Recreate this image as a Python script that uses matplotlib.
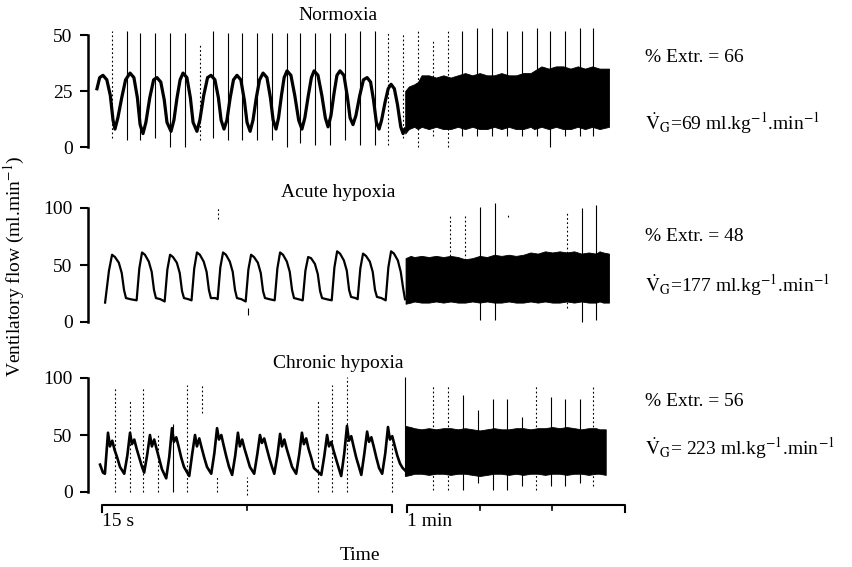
"""
Ventilatory flow recordings (normoxia, acute and chronic hypoxia),
slow trace (15 s) followed by compressed trace (1 min)
"""

import matplotlib
matplotlib.use("Agg")
import matplotlib.pyplot as plt

plt.rcParams["font.family"] = ["Liberation Serif", "DejaVu Serif"]
plt.rcParams["mathtext.fontset"] = "stix"

W, H = 853, 567

# ---- data (time in s, flow in ml/min) ----

# normoxia, 15 s trace
N_SLOW_T = [-0.26, -0.12, 0.05, 0.25, 0.43, 0.57, 0.67, 0.82, 1.02, 1.22,
            1.45, 1.65, 1.83, 1.97, 2.12, 2.27, 2.47, 2.67,
            2.84, 3.04, 3.22, 3.36, 3.57, 3.72, 3.88, 4.04,
            4.19, 4.39, 4.57, 4.71, 4.91, 5.06, 5.26, 5.46,
            5.64, 5.84, 6.02, 6.16, 6.31, 6.46, 6.63, 6.80,
            6.98, 7.18, 7.36, 7.50, 7.66, 7.81, 7.98, 8.15,
            8.33, 8.53, 8.71, 8.85, 9.00, 9.13, 9.28, 9.42,
            9.57, 9.77, 9.97, 10.17, 10.34, 10.49, 10.67, 10.83,
            10.97, 11.17, 11.37, 11.55, 11.69, 11.84, 12.00, 12.15,
            12.31, 12.51, 12.68, 12.83, 12.98, 13.13, 13.33, 13.52,
            13.71, 13.89, 14.04, 14.19, 14.33, 14.46, 14.64, 14.80,
            14.95, 15.12, 15.28, 15.45, 15.57, 15.67]
N_SLOW_V = [26, 31, 32, 30, 23, 12, 8, 13, 22, 30,
            33, 31, 22, 10, 6, 11, 22, 30,
            31, 29, 21, 11, 7, 12, 22, 30,
            33, 31, 22, 11, 7, 12, 23, 31,
            32, 30, 22, 12, 8, 12, 22, 30,
            32, 30, 21, 11, 7, 12, 22, 30,
            33, 31, 22, 12, 8, 13, 23, 31,
            34, 32, 23, 12, 8, 13, 23, 31,
            34, 32, 23, 13, 9, 14, 24, 32,
            34, 32, 23, 13, 10, 14, 23, 30,
            31, 29, 21, 11, 8, 12, 20, 26,
            28, 26, 19, 9, 6, 8]
# normoxia, 1 min trace (envelope of the dense record)
N_BAND_T = [-0.5, 0.5, 2.0, 3.0, 4.0, 6, 8, 10, 12, 14, 16, 18, 20, 22, 24, 26, 28,
            30, 32, 34, 35, 37, 39, 41, 43, 45, 47, 49, 51, 53, 55.6]
N_BAND_HI = [25, 27, 28, 29, 32, 32, 31, 32, 31, 32, 33, 32, 33, 32, 32, 33, 32,
             32, 33, 33, 34, 36, 35, 36, 36, 35, 36, 35, 36, 35, 35]
N_BAND_LO = [6, 8, 9, 8, 9, 8, 9, 8, 8, 9, 8, 9, 8, 8, 9, 8, 9,
             8, 8, 9, 8, 9, 8, 9, 8, 8, 9, 8, 9, 8, 9]
# normoxia, marker spikes
N_SPK_SLOW_T = [0.52, 1.29, 1.97, 2.74, 3.52, 4.29, 5.07, 5.74, 6.52, 7.24, 8.02,
                8.79, 9.57, 10.24, 11.02, 11.79, 12.57, 13.34, 14.12, 14.79, 15.57]
N_SPK_SLOW_LO = [4, 3, 3, 4, 0, 0, 3, 4, 3, 3, 3, 3, 0, 2, 1, 1, 3, 1, 1, 1, 4]
N_SPK_SLOW_HI = [52, 52, 51, 51, 51, 51, 46, 52, 51, 51, 51, 51, 51, 51, 51, 51, 51, 52, 52, 51, 51]
N_SPK_SLOW_DOT = [1, 0, 0, 0, 0, 0, 1, 0, 0, 0, 0, 0, 0, 0, 0, 0, 0, 0, 0, 1, 1]
N_SPK_FAST_T = [3.03, 7.16, 11.29, 15.14, 19.27, 23.40, 27.53, 31.65, 35.78,
                39.36, 43.49, 47.62, 51.20]
N_SPK_FAST_LO = [0, 5, 0, 5, 5, 5, 5, 5, 5, 0, 5, 5, 5]
N_SPK_FAST_HI = [52, 48, 52, 52, 53, 53, 52, 52, 53, 52, 52, 53, 53]
N_SPK_FAST_DOT = [1, 1, 1, 0, 0, 0, 0, 0, 0, 0, 0, 0, 0]

# acute hypoxia
A_SLOW_T = [0.16, 0.36, 0.52, 0.67, 0.87, 1.02, 1.14, 1.24, 1.47,
            1.79, 1.93, 2.07, 2.22, 2.42, 2.57, 2.69, 2.79, 3.02,
            3.24, 3.38, 3.52, 3.67, 3.87, 4.02, 4.14, 4.24, 4.47,
            4.63, 4.77, 4.91, 5.06, 5.26, 5.41, 5.53, 5.63, 5.86,
            5.98, 6.12, 6.26, 6.41, 6.61, 6.76, 6.88, 6.98, 7.21,
            7.43, 7.57, 7.71, 7.86, 8.06, 8.21, 8.33, 8.43, 8.66,
            8.93, 9.07, 9.21, 9.36, 9.56, 9.71, 9.83, 9.93, 10.16,
            10.38, 10.52, 10.66, 10.81, 11.01, 11.16, 11.28, 11.38, 11.61,
            11.88, 12.02, 12.16, 12.31, 12.51, 12.66, 12.78, 12.88, 13.11,
            13.22, 13.36, 13.50, 13.65, 13.85, 14.00, 14.12, 14.22, 14.45,
            14.67, 14.81, 14.95, 15.10, 15.30, 15.45, 15.57, 15.67]
A_SLOW_V = [17, 45, 59, 57, 52, 43, 28, 21, 20,
            19, 47, 61, 59, 53, 44, 28, 21, 20,
            18, 46, 59, 57, 52, 43, 27, 21, 20,
            19, 47, 61, 59, 53, 44, 28, 21, 21,
            20, 48, 61, 59, 53, 44, 28, 21, 20,
            18, 46, 59, 57, 52, 43, 27, 21, 20,
            19, 47, 61, 59, 53, 44, 28, 21, 20,
            19, 45, 57, 56, 51, 42, 27, 21, 20,
            19, 48, 62, 60, 54, 45, 28, 22, 21,
            20, 47, 60, 58, 53, 44, 28, 22, 21,
            19, 48, 62, 60, 54, 44, 30, 20]
A_BAND_T = [-0.4, 1, 2, 4, 6, 8, 10, 12, 14, 16, 18, 20, 22, 24, 26, 28, 30,
            32, 34, 36, 38, 40, 42, 44, 46, 48, 50, 52, 53, 54, 55.6]
A_BAND_HI = [56, 58, 57, 58, 57, 58, 57, 58, 57, 55, 56, 58, 57, 59, 58, 59, 58,
             59, 61, 60, 62, 61, 62, 61, 62, 60, 61, 60, 62, 61, 60]
A_BAND_LO = [16, 17, 18, 17, 17, 18, 17, 18, 17, 17, 18, 17, 18, 17, 17, 18, 17,
             17, 18, 17, 18, 17, 17, 18, 17, 18, 17, 17, 18, 17, 17]
A_SPK_SLOW_T = [6.00, 7.55]
A_SPK_SLOW_LO = [90, 6]
A_SPK_SLOW_HI = [100, 12]
A_SPK_SLOW_DOT = [1, 0]
A_SPK_FAST_T = [11.8, 15.96, 20.1, 24.2, 27.8, 44.0, 48.2, 52.0]
A_SPK_FAST_LO = [58, 54, 2, 2, 92, 12, 0, 2]
A_SPK_FAST_HI = [95, 95, 101, 104, 95, 97, 100, 103]
A_SPK_FAST_DOT = [1, 1, 0, 0, 1, 1, 0, 0]

# chronic hypoxia
C_SLOW_T = [-0.10, 0.05, 0.15,
            0.31, 0.41, 0.53, 0.65, 0.79, 0.93, 1.15, 1.31,
            1.45, 1.55, 1.67, 1.79, 1.93, 2.07, 2.18, 2.34,
            2.48, 2.58, 2.70, 2.82, 2.96, 3.10, 3.32, 3.48,
            3.62, 3.72, 3.84, 3.96, 4.10, 4.24, 4.51, 4.67,
            4.81, 4.91, 5.03, 5.15, 5.29, 5.43, 5.65, 5.81,
            5.95, 6.05, 6.17, 6.29, 6.43, 6.57, 6.73, 6.89,
            7.03, 7.13, 7.25, 7.37, 7.51, 7.65, 7.87, 8.03,
            8.17, 8.27, 8.39, 8.51, 8.65, 8.79, 8.91, 9.07,
            9.21, 9.31, 9.43, 9.55, 9.69, 9.83, 10.04, 10.20,
            10.34, 10.44, 10.56, 10.68, 10.82, 10.96, 11.34, 11.50,
            11.64, 11.74, 11.86, 11.98, 12.12, 12.26, 12.37, 12.53,
            12.67, 12.77, 12.89, 13.01, 13.15, 13.29, 13.41, 13.57,
            13.71, 13.81, 13.93, 14.05, 14.19, 14.33, 14.49, 14.65,
            14.79, 14.89, 15.01, 15.13, 15.27, 15.41, 15.55, 15.67]
C_SLOW_V = [24, 17, 16,
            52, 40, 45, 37, 30, 22, 16, 32,
            52, 42, 46, 38, 30, 22, 17, 33,
            50, 40, 46, 38, 29, 20, 12, 31,
            56, 44, 48, 40, 30, 22, 14, 34,
            50, 40, 47, 39, 30, 22, 16, 34,
            56, 46, 50, 41, 31, 22, 15, 32,
            52, 40, 46, 38, 30, 22, 16, 33,
            50, 43, 47, 39, 30, 22, 16, 32,
            51, 40, 46, 38, 30, 22, 16, 33,
            52, 42, 47, 38, 30, 21, 15, 32,
            50, 40, 44, 36, 28, 20, 14, 34,
            58, 45, 49, 40, 30, 22, 15, 34,
            53, 44, 48, 40, 30, 21, 16, 34,
            57, 46, 49, 41, 32, 25, 21, 19]
C_BAND_T = [-0.5, 1, 2, 4, 6, 8, 10, 12, 14, 16, 18, 20, 22, 24, 26, 28, 30,
            32, 34, 36, 38, 40, 42, 44, 46, 48, 50, 52, 53, 54.7]
C_BAND_HI = [58, 57, 56, 55, 56, 55, 56, 56, 55, 56, 55, 54, 55, 56, 55, 55, 56,
             56, 55, 56, 56, 57, 56, 57, 56, 55, 56, 56, 55, 55]
C_BAND_LO = [14, 15, 16, 16, 15, 16, 16, 15, 16, 16, 15, 14, 15, 16, 16, 15, 16,
             15, 16, 16, 15, 16, 16, 15, 16, 16, 15, 16, 16, 15]
C_SPK_SLOW_T = [0.67, 1.45, 2.12, 2.90, 3.67, 4.40, 5.17, 5.95, 7.50,
                11.17, 11.90, 12.67, 15.00]
C_SPK_SLOW_LO = [0, 0, 0, 0, 0, 0, 69, 0, -3, 0, 0, 0, 0]
C_SPK_SLOW_HI = [92, 81, 91, 50, 60, 94, 94, 13, 13, 81, 94, 101, 44]
C_SPK_SLOW_DOT = [1, 1, 1, 1, 0, 1, 1, 1, 1, 1, 1, 1, 1]
C_SPK_FAST_T = [-0.55, 7.16, 11.29, 15.41, 19.54, 23.67, 27.53, 31.65, 35.5,
                39.6, 43.5, 47.6, 51.2]
C_SPK_FAST_LO = [14, 2, 2, 2, 8, 2, 2, 5, 2, 5, 5, 8, 5]
C_SPK_FAST_HI = [101, 94, 94, 85, 72, 82, 82, 66, 94, 83, 82, 82, 94]
C_SPK_FAST_DOT = [0, 1, 1, 0, 0, 0, 0, 0, 1, 0, 0, 0, 1]

TITLES = ["Normoxia", "Acute hypoxia", "Chronic hypoxia"]
EXTRACTION = [66, 48, 56]
VG = [69, 177, 223]
VG_SEP = ["=", "=", "= "]
Y_MAX = [50, 100, 100]

# time scale brackets (s)
SLOW_SCALE = [0, 7.5, 15]
FAST_SCALE = [0, 20, 40, 60]

# ---- layout (pixels of the 853x567 figure) ----
SLOW_XLIM = (-0.724, 15.67)
FAST_XLIM = (-0.55, 61.38)
PANEL_PX = [(35, 147), (208, 322), (378, 492)]  # y of top / zero
FS = 14


def px_box(x0, x1, y_top, y_bot):
    return [x0 / W, 1 - y_bot / H, (x1 - x0) / W, (y_bot - y_top) / H]


def fig_xy(x, y):
    return x / W, 1 - y / H


def draw_spikes(ax, t, lo, hi, dot):
    for ti, a, b, d in zip(t, lo, hi, dot):
        ax.vlines(ti, a, b, colors="black", lw=0.8, clip_on=False,
                  linestyles=(0, (1.6, 2.2)) if d else "solid")


fig = plt.figure(figsize=(W / 100, H / 100), dpi=100)

panels = [
    (N_SLOW_T, N_SLOW_V, N_BAND_T, N_BAND_LO, N_BAND_HI,
     (N_SPK_SLOW_T, N_SPK_SLOW_LO, N_SPK_SLOW_HI, N_SPK_SLOW_DOT),
     (N_SPK_FAST_T, N_SPK_FAST_LO, N_SPK_FAST_HI, N_SPK_FAST_DOT), 2.3),
    (A_SLOW_T, A_SLOW_V, A_BAND_T, A_BAND_LO, A_BAND_HI,
     (A_SPK_SLOW_T, A_SPK_SLOW_LO, A_SPK_SLOW_HI, A_SPK_SLOW_DOT),
     (A_SPK_FAST_T, A_SPK_FAST_LO, A_SPK_FAST_HI, A_SPK_FAST_DOT), 1.6),
    (C_SLOW_T, C_SLOW_V, C_BAND_T, C_BAND_LO, C_BAND_HI,
     (C_SPK_SLOW_T, C_SPK_SLOW_LO, C_SPK_SLOW_HI, C_SPK_SLOW_DOT),
     (C_SPK_FAST_T, C_SPK_FAST_LO, C_SPK_FAST_HI, C_SPK_FAST_DOT), 1.9),
]

slow_axes = []
fast_axes = []
for i, (st, sv, bt, blo, bhi, sspk, fspk, lw) in enumerate(panels):
    y_top, y_bot = PANEL_PX[i]
    ymax = Y_MAX[i]
    ax = fig.add_axes(px_box(88, 405, y_top, y_bot))
    fx = fig.add_axes(px_box(405, 630, y_top, y_bot))
    for a in (ax, fx):
        a.set_ylim(0, ymax)
        a.patch.set_visible(False)
        for s in a.spines.values():
            s.set_visible(False)
    ax.set_xlim(*SLOW_XLIM)
    fx.set_xlim(*FAST_XLIM)
    fx.set_xticks([])
    fx.set_yticks([])
    ax.set_xticks([])

    ax.spines["left"].set_visible(True)
    ax.spines["left"].set_bounds(0, ymax)
    ax.spines["left"].set_linewidth(1.8)
    ax.set_yticks([0, ymax / 2, ymax])
    ax.set_yticklabels(["0", str(int(ymax / 2)), str(ymax)])
    ax.tick_params(axis="y", length=6, width=1.5, pad=5, labelsize=FS)

    draw_spikes(ax, *sspk)
    draw_spikes(fx, *fspk)
    ax.plot(st, sv, color="black", lw=lw, solid_joinstyle="round", clip_on=False)
    fx.fill_between(bt, blo, bhi, color="black", lw=0.6, clip_on=False)

    slow_axes.append(ax)
    fast_axes.append(fx)

# titles and right-hand annotations
TITLE_Y = [15, 193, 363]
EXTR_Y = [58, 237, 402]
VG_Y = [123, 285, 448]
for i in range(3):
    fig.text(*fig_xy(338, TITLE_Y[i]), TITLES[i], ha="center", va="center", fontsize=FS)
    fig.text(*fig_xy(645, EXTR_Y[i]), f"% Extr. = {EXTRACTION[i]}",
             ha="left", va="center", fontsize=FS)
    fig.text(*fig_xy(645, VG_Y[i]),
             r"$\dot{\mathrm{V}}_{\mathrm{G}}$" + f"{VG_SEP[i]}{VG[i]} ml.kg"
             + r"$^{-1}$" + ".min" + r"$^{-1}$",
             ha="left", va="center", fontsize=FS)

# time scale brackets below the last panel
ax = slow_axes[2]
fx = fast_axes[2]
ax.plot([SLOW_SCALE[0], SLOW_SCALE[0], SLOW_SCALE[-1], SLOW_SCALE[-1]],
        [-17.5, -11.4, -11.4, -17.5], color="black", lw=1.5, clip_on=False)
ax.plot([SLOW_SCALE[1], SLOW_SCALE[1]], [-11.4, -16], color="black", lw=1.2, clip_on=False)
fx.plot([FAST_SCALE[0], FAST_SCALE[0], FAST_SCALE[-1], FAST_SCALE[-1]],
        [-17.5, -11.4, -11.4, -17.5], color="black", lw=1.5, clip_on=False)
for t in FAST_SCALE[1:-1]:
    fx.plot([t, t], [-11.4, -16], color="black", lw=1.2, clip_on=False)

fig.text(*fig_xy(102, 521), "15 s", ha="left", va="center", fontsize=FS)
fig.text(*fig_xy(407, 521), "1 min", ha="left", va="center", fontsize=FS)
fig.text(*fig_xy(360, 556), "Time", ha="center", va="center", fontsize=FS)
fig.text(*fig_xy(14, 266), r"Ventilatory flow (ml.min$^{-1}$)", rotation=90,
         ha="center", va="center", fontsize=FS)

fig.savefig("out.png", dpi=100)
